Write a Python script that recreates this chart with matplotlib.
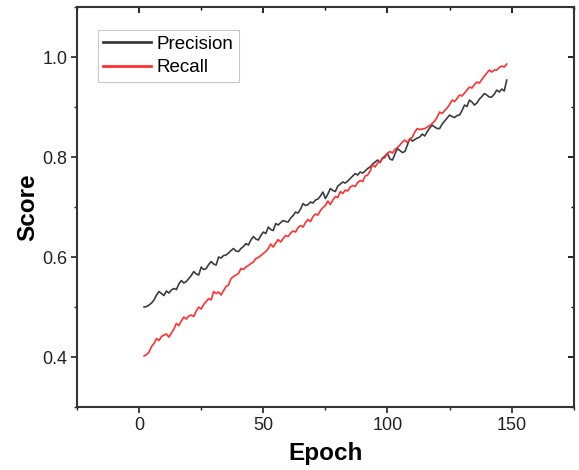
import matplotlib
matplotlib.use("Agg")
import matplotlib.pyplot as plt
from matplotlib.ticker import MultipleLocator

plt.rcParams['font.family'] = ['Liberation Sans', 'DejaVu Sans']

# --- data ---
epochs = list(range(2, 149))

precision = [
    0.500, 0.501, 0.504, 0.508, 0.514, 0.524, 0.531, 0.527, 0.523, 0.532,
    0.528, 0.534, 0.537, 0.535, 0.546, 0.553, 0.548, 0.551, 0.557, 0.563,
    0.571, 0.566, 0.564, 0.580, 0.575, 0.577, 0.585, 0.591, 0.586, 0.584,
    0.600, 0.598, 0.603, 0.604, 0.608, 0.613, 0.617, 0.612, 0.611, 0.617,
    0.621, 0.627, 0.624, 0.634, 0.641, 0.636, 0.634, 0.643, 0.650, 0.647,
    0.660, 0.655, 0.653, 0.667, 0.664, 0.669, 0.673, 0.671, 0.670, 0.678,
    0.683, 0.690, 0.688, 0.696, 0.707, 0.703, 0.705, 0.710, 0.708, 0.714,
    0.716, 0.722, 0.730, 0.717, 0.726, 0.737, 0.733, 0.731, 0.742, 0.746,
    0.750, 0.748, 0.752, 0.757, 0.762, 0.767, 0.764, 0.770, 0.768, 0.772,
    0.777, 0.780, 0.786, 0.790, 0.794, 0.789, 0.798, 0.802, 0.807, 0.796,
    0.794, 0.806, 0.817, 0.813, 0.809, 0.811, 0.824, 0.837, 0.832, 0.835,
    0.838, 0.840, 0.846, 0.842, 0.851, 0.858, 0.864, 0.860, 0.857, 0.857,
    0.866, 0.872, 0.878, 0.884, 0.881, 0.879, 0.883, 0.884, 0.893, 0.904,
    0.901, 0.914, 0.910, 0.904, 0.908, 0.916, 0.921, 0.927, 0.924, 0.920,
    0.920, 0.926, 0.934, 0.930, 0.936, 0.932, 0.954,
]

recall = [
    0.402, 0.405, 0.410, 0.421, 0.427, 0.437, 0.433, 0.441, 0.444, 0.446,
    0.440, 0.448, 0.456, 0.467, 0.463, 0.472, 0.480, 0.476, 0.482, 0.484,
    0.481, 0.492, 0.500, 0.496, 0.505, 0.511, 0.517, 0.514, 0.531, 0.527,
    0.530, 0.524, 0.533, 0.541, 0.544, 0.557, 0.561, 0.564, 0.567, 0.577,
    0.575, 0.580, 0.583, 0.587, 0.590, 0.597, 0.599, 0.603, 0.607, 0.611,
    0.617, 0.626, 0.620, 0.628, 0.635, 0.630, 0.637, 0.643, 0.641, 0.648,
    0.652, 0.650, 0.659, 0.663, 0.660, 0.669, 0.675, 0.671, 0.681, 0.686,
    0.684, 0.693, 0.699, 0.703, 0.712, 0.705, 0.714, 0.721, 0.719, 0.731,
    0.727, 0.734, 0.732, 0.740, 0.743, 0.741, 0.749, 0.753, 0.751, 0.762,
    0.764, 0.772, 0.785, 0.780, 0.788, 0.791, 0.797, 0.799, 0.808, 0.811,
    0.808, 0.815, 0.819, 0.824, 0.830, 0.834, 0.829, 0.836, 0.840, 0.850,
    0.857, 0.855, 0.856, 0.857, 0.860, 0.863, 0.867, 0.872, 0.880, 0.890,
    0.887, 0.893, 0.898, 0.905, 0.914, 0.911, 0.917, 0.924, 0.922, 0.928,
    0.934, 0.940, 0.938, 0.945, 0.950, 0.948, 0.955, 0.962, 0.968, 0.974,
    0.970, 0.974, 0.974, 0.979, 0.982, 0.980, 0.986,
]

# --- figure ---
fig = plt.figure(figsize=(5.79, 4.70), dpi=100)
ax = fig.add_axes([0.133, 0.134, 0.858, 0.851])

ax.plot(epochs, precision, color='#3c3c3c', lw=1.2, label='Precision')
ax.plot(epochs, recall, color='#ff3030', lw=1.2, label='Recall')

ax.set_xlim(-25, 175)
ax.set_ylim(0.3, 1.1)
ax.xaxis.set_major_locator(MultipleLocator(50))
ax.xaxis.set_minor_locator(MultipleLocator(25))
ax.yaxis.set_minor_locator(MultipleLocator(0.1))
ax.set_yticks([0.4, 0.6, 0.8, 1.0])
ax.set_yticklabels(['0.4', '0.6', '0.8', '1.0'])

for sp in ax.spines.values():
    sp.set_linewidth(1.5)
    sp.set_color('#333333')

ax.tick_params(which='major', direction='out', length=4, width=1.2,
               labelsize=13, colors='#222222', pad=3)
ax.tick_params(which='minor', direction='out', length=2.5, width=1.0,
               colors='#222222')

# mirrored ticks pointing inward on top and right
top = ax.secondary_xaxis('top')
top.xaxis.set_major_locator(MultipleLocator(50))
top.xaxis.set_minor_locator(MultipleLocator(25))
top.tick_params(which='major', direction='in', length=4, width=1.2, labeltop=False)
top.tick_params(which='minor', direction='in', length=2.5, width=1.0)
right = ax.secondary_yaxis('right')
right.yaxis.set_minor_locator(MultipleLocator(0.1))
right.set_yticks([0.4, 0.6, 0.8, 1.0])
right.tick_params(which='major', direction='in', length=4, width=1.2, labelright=False)
right.tick_params(which='minor', direction='in', length=2.5, width=1.0)
for sec in (top, right):
    for sp in sec.spines.values():
        sp.set_visible(False)

ax.set_xlabel('Epoch', fontsize=17.5, fontweight='bold', labelpad=6)
ax.set_ylabel('Score', fontsize=17.5, fontweight='bold', labelpad=2)

leg = ax.legend(loc='upper left', bbox_to_anchor=(0.042, 0.943), fontsize=13.5,
                frameon=True, fancybox=False, edgecolor='#bbbbbb',
                handlelength=2.55, handletextpad=0.3, borderpad=0.3,
                labelspacing=0.35, borderaxespad=0.0)
leg.get_frame().set_linewidth(0.8)
for line in leg.get_lines():
    line.set_linewidth(2.0)

fig.savefig('out.png', dpi=100)
